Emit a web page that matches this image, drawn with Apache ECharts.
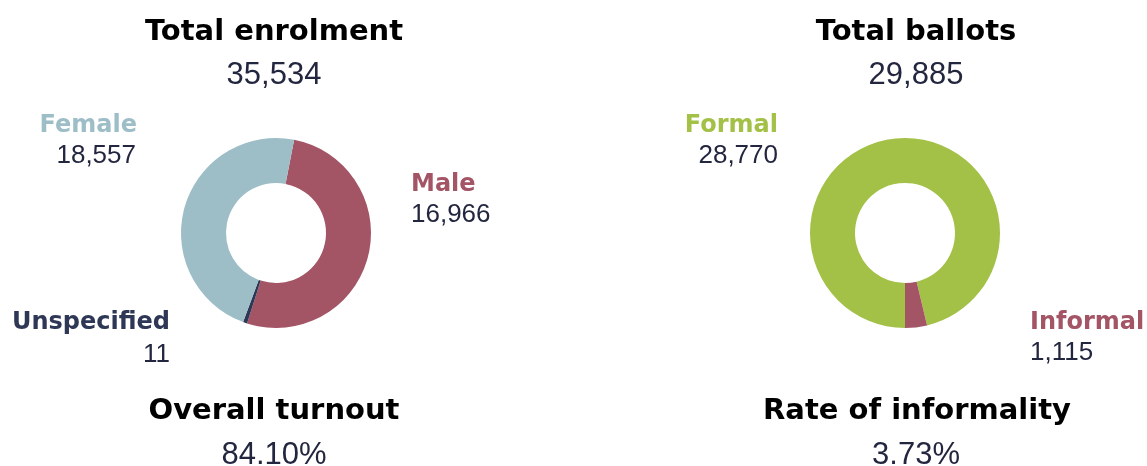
<!DOCTYPE html>
<html>
<head>
<meta charset="utf-8">
<script src="https://cdn.jsdelivr.net/npm/echarts@6/dist/echarts.min.js"></script>
<style>
  html, body { margin: 0; padding: 0; background: #fff; }
  #chart { width: 1147px; height: 466px; }
</style>
</head>
<body>
<div id="chart"></div>
<script>
// enrolment breakdown
const enrolLabels = ["Female", "Male", "Unspecified"];
const enrolValues = [18557, 16966, 11];
// ballots breakdown
const ballotLabels = ["Formal", "Informal"];
const ballotValues = [28770, 1115];

const BLUE = "#9dbec7";
const MAROON = "#a35465";
const NAVY = "#2e3755";
const GREEN = "#a3c147";
const NUM = "#23263f";

const enrolLabelColors = [BLUE, MAROON, NAVY];
// the reference paints the slices in this colour order (clockwise from the top)
const enrolSliceColors = [MAROON, BLUE, NAVY];
const enrolSliceOrder = [0, 2, 1];
const ballotColors = [GREEN, MAROON];

const fmt = (v) => v.toLocaleString("en-US");
const pct = (v) => (v * 100).toFixed(2) + "%";

const enrolTotal = enrolValues.reduce((a, b) => a + b, 0);
const ballotTotal = ballotValues.reduce((a, b) => a + b, 0);

const HEAD = "'DejaVu Sans', sans-serif";
const BODY = "'Liberation Sans', Arial, sans-serif";

function heading(text, x, y) {
  return {
    type: "text", x, y,
    style: { text, fill: "#000", font: "700 29px " + HEAD, align: "center", verticalAlign: "middle" },
  };
}
function number(text, x, y, size, align) {
  return {
    type: "text", x, y,
    style: { text, fill: NUM, font: size + "px " + BODY, align: align || "center", verticalAlign: "middle" },
  };
}
function catLabel(text, color, x, y, align) {
  return {
    type: "text", x, y,
    style: { text, fill: color, font: "700 24px " + HEAD, align, verticalAlign: "middle" },
  };
}

const graphics = [
  heading("Total enrolment", 274, 32),
  number(fmt(enrolTotal), 274, 75, 31),
  catLabel(enrolLabels[0], enrolLabelColors[0], 137, 126, "right"),
  number(fmt(enrolValues[0]), 136, 156, 26, "right"),
  catLabel(enrolLabels[1], enrolLabelColors[1], 411, 185, "left"),
  number(fmt(enrolValues[1]), 411, 215, 26, "left"),
  catLabel(enrolLabels[2], enrolLabelColors[2], 170, 323, "right"),
  number(fmt(enrolValues[2]), 170, 355, 26, "right"),
  heading("Overall turnout", 274, 411),
  number(pct(ballotTotal / enrolTotal), 274, 455, 31),

  heading("Total ballots", 916, 32),
  number(fmt(ballotTotal), 916, 75, 31),
  catLabel(ballotLabels[0], ballotColors[0], 778, 126, "right"),
  number(fmt(ballotValues[0]), 778, 156, 26, "right"),
  catLabel(ballotLabels[1], ballotColors[1], 1030, 323, "left"),
  number(fmt(ballotValues[1]), 1030, 353, 26, "left"),
  heading("Rate of informality", 917, 411),
  number(pct(ballotValues[1] / ballotTotal), 916, 455, 31),
];

const pieBase = {
  type: "pie",
  radius: [50, 95],
  clockwise: true,
  label: { show: false },
  labelLine: { show: false },
  emphasis: { disabled: true },
  silent: true,
  itemStyle: { borderWidth: 0 },
};

const option = {
  animation: false,
  graphic: graphics,
  series: [
    Object.assign({}, pieBase, {
      center: [276, 233],
      startAngle: 79,
      minAngle: 2.5,
      data: enrolSliceOrder.map((i) => ({
        name: enrolLabels[i],
        value: enrolValues[i],
        itemStyle: { color: enrolSliceColors[i] },
      })),
    }),
    Object.assign({}, pieBase, {
      center: [905, 233],
      startAngle: -90,
      data: ballotLabels.map((name, i) => ({
        name,
        value: ballotValues[i],
        itemStyle: { color: ballotColors[i] },
      })),
    }),
  ],
};

const chart = echarts.init(document.getElementById("chart"));
chart.setOption(option);
</script>
</body>
</html>
